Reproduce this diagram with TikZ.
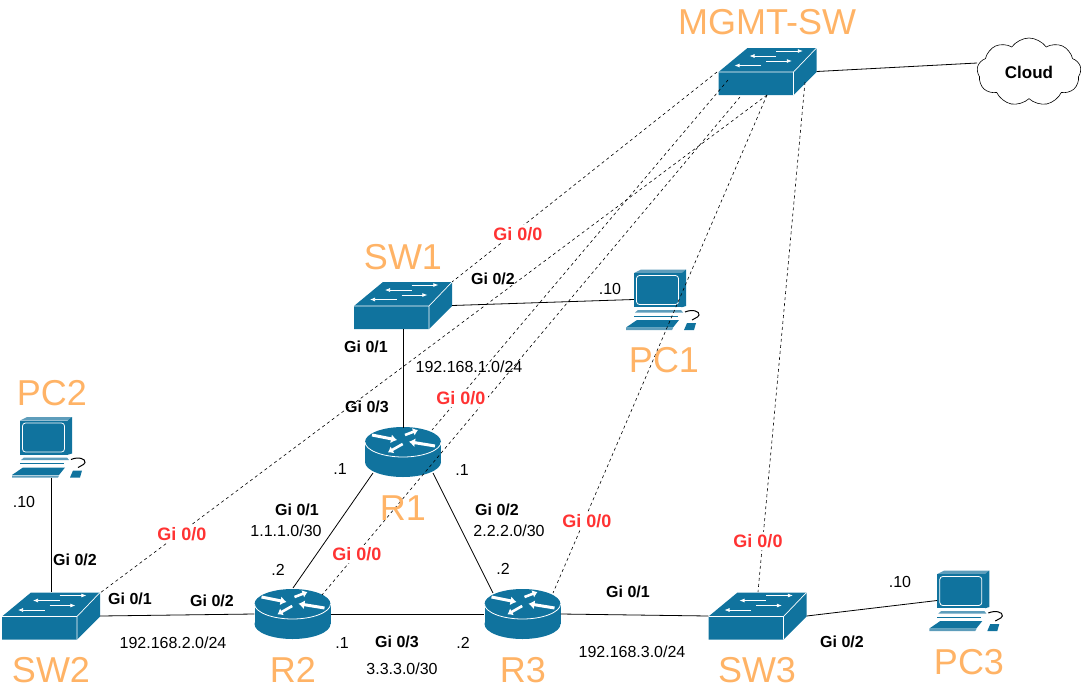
\documentclass[tikz,border=0pt]{standalone}
\usepackage{fontspec}
\setmainfont{Liberation Sans}
\usepackage{xcolor}
\usetikzlibrary{positioning}
\usetikzlibrary{shapes.symbols,arrows.meta}
\definecolor{iconblue}{HTML}{10739E}
\definecolor{iconlight}{HTML}{5E9DBB}
\definecolor{titleorange}{HTML}{FFB366}
\definecolor{portred}{HTML}{FF3333}

\tikzset{
  pics/switchicon/.style={code={
    \fill[iconblue] (-20,-23.5) -- (49,-23.5) -- (49,.5) -- (26,23.5) -- (-49,23.5) -- (-49,.5) -- cycle;
    \draw[white,line width=.7pt] (-49,.5) -- (26,.5) -- (49,-23.5) (26,.5) -- (26,23.5);
    \draw[white,line width=.7pt,-{Latex[length=5pt,width=4pt]}] (8.7,-20.5) -- (35.3,-20.5);
    \draw[white,line width=.7pt,-{Latex[length=5pt,width=4pt]}] (8.7,-15.5) -- (-18,-15.5);
    \draw[white,line width=.7pt,-{Latex[length=5pt,width=4pt]}] (-1.3,-10.5) -- (24.3,-10.5);
    \draw[white,line width=.7pt,-{Latex[length=5pt,width=4pt]}] (-6.3,-6) -- (-33,-6);
  }},
  pics/routericon/.style={code={
    \fill[iconblue] (0,10) ellipse [x radius=38pt,y radius=15pt];
    \fill[iconblue] (-38,-10) rectangle (38,10);
    \fill[iconblue] (0,-10) ellipse [x radius=38pt,y radius=15pt];
    \draw[white,line width=.8pt] (-38,-10) .. controls (-38,-2) and (-21,5) .. (0,5) .. controls (21,5) and (38,-2) .. (38,-10);
    \draw[white,line width=3pt,-{Latex[length=6pt,width=9pt]}] (-31,-17) -- (-6,-12);
    \draw[white,line width=3pt,-{Latex[length=6pt,width=9pt]}] (32,-6) -- (6,-10.3);
    \draw[white,line width=2.6pt,-{Latex[length=5pt,width=8pt]}] (2,-17) -- (15,-22);
    \draw[white,line width=2.6pt,-{Latex[length=5pt,width=8pt]}] (-.3,-8) -- (-15,.3);
  }},
  pics/pcicon/.style={code={
    \begin{scope}[shift={(-28.5,-26.5)}]
      \fill[iconlight] (0,0) -- (7,-3.5) -- (52,-3.5) -- (47.7,0) -- cycle;
      \fill[iconblue] (47.7,0) -- (52,-3.5) -- (52,33) -- (47.7,34.3) -- cycle;
      \fill[iconblue] (0,0) rectangle (47.7,34.3);
      \draw[white,line width=.8pt,rounded corners=3pt] (2.5,2.5) rectangle (44.5,31.5);
      \fill[iconlight] (4,37) -- (47,37) -- (49,39.5) -- (1,39.5) -- cycle;
      \draw[iconblue,line width=.7pt] (0,43) -- (44,43);
      \fill[iconblue] (-8,54.5) -- (3,47) -- (45,47) -- (39,54.5) -- cycle;
      \fill[iconlight] (-8,55.2) -- (39,55.2) -- (38,57) -- (-8,57) -- cycle;
      \fill[iconblue] (53,50) -- (62,50) -- (60,57) -- (50,57) -- cycle;
      \draw[black,line width=1pt] (51,39) .. controls (58,36) and (66,38) .. (65,42) .. controls (64,45) and (60,45) .. (58,47);
    \end{scope}
  }}
}

\begin{document}
\begin{tikzpicture}[
      x=1pt, y=-1pt,
      type-switch/.style={rectangle, minimum width=98pt, minimum height=47pt, inner sep=0pt},
      type-router/.style={rectangle, minimum width=76pt, minimum height=50pt, inner sep=0pt},
      type-pc/.style={rectangle, minimum width=73pt, minimum height=61pt, inner sep=0pt},
      type-cloud/.style={cloud, cloud puffs=9, cloud puff arc=110, aspect=1.6, draw=black, line width=.6pt, minimum width=104pt, minimum height=68pt, inner sep=0pt, font=\fontsize{17}{19}\selectfont\bfseries},
      type-title/.style={inner sep=0pt, text=titleorange, font=\fontsize{36}{40}\selectfont},
      type-port/.style={inner sep=0pt, font=\fontsize{16}{18}\selectfont\bfseries},
      type-mgmt/.style={inner sep=2pt, fill=white, text=portred, font=\fontsize{18}{20}\selectfont\bfseries},
      type-net/.style={inner sep=0pt, font=\fontsize{16}{18}\selectfont},
      link/.style={black, line width=.8pt},
      mgmt-link/.style={black, line width=.6pt, dash pattern=on 3pt off 3pt}
    ]
      \useasboundingbox (0,0) rectangle (1090,691);

      \node[type-switch] (MGMT) at (767.5,71.5) {};
      \node[type-switch] (SW1) at (403,305.5) {};
      \node[type-switch] (SW2) at (51,616) {};
      \node[type-switch] (SW3) at (757.5,616) {};
      \node[type-router] (R1) at (403,452) {};
      \node[type-router] (R2) at (292.5,614) {};
      \node[type-router] (R3) at (522.5,614) {};
      \node[type-pc] (PC1) at (662.5,299.5) {};
      \node[type-pc] (PC2) at (48.5,447) {};
      \node[type-pc] (PC3) at (965.8,600.5) {};
      \node[type-cloud] (cloud) at (1029,72) {Cloud};

      \foreach \dev in {MGMT,SW1,SW2,SW3} {\pic at (\dev) {switchicon};}
      \foreach \dev in {R1,R2,R3} {\pic at (\dev) {routericon};}
      \foreach \dev in {PC1,PC2,PC3} {\pic at (\dev) {pcicon};}

      \draw[link] (MGMT.east) -- ([yshift=9pt]cloud.west);
      \draw[link] (SW1.east) -- ([xshift=8pt]PC1.west);
      \draw[link] (SW1.south) -- ([yshift=-1pt]R1.north);
      \draw[link] (PC2.south -| SW2.north) -- (SW2.north);
      \draw[link] (SW2.east) -- (R2.west);
      \draw[link] (R2.east) -- (R3.west);
      \draw[link] (R3.east) -- (SW3.west);
      \draw[link] (SW3.east) -- ([xshift=8pt]PC3.west);
      \draw[link] ([shift={(-30,21)}]R1.center) -- ([shift={(.5,-26)}]R2.center);
      \draw[link] ([shift={(30,21)}]R1.center) -- ([shift={(-29.5,-21)}]R3.center);

      \draw[mgmt-link] ([shift={(-50.5,.5)}]MGMT.center) -- (SW1.north east);
      \draw[mgmt-link] ([shift={(-.5,23.5)}]MGMT.center) -- ([shift={(49,-23)}]SW2.center);
      \draw[mgmt-link] ([shift={(-39.5,8.5)}]MGMT.center) -- ([shift={(29,-22)}]R1.center);
      \draw[mgmt-link] ([shift={(-27.5,25.5)}]MGMT.center) -- ([shift={(29.5,-19)}]R2.center);
      \draw[mgmt-link] ([shift={(-.5,23.5)}]MGMT.center) -- ([shift={(30.5,-21)}]R3.center);
      \draw[mgmt-link] ([shift={(37.5,10.5)}]MGMT.center) -- ([shift={(.5,-24)}]SW3.center);

      \node[type-title] (t-mgmt) at (767,22) {MGMT-SW};
      \node[type-title] (t-sw1) at (403,257) {SW1};
      \node[type-title] (t-pc1) at (664,360) {PC1};
      \node[type-title] (t-pc2) at (52,393) {PC2};
      \node[type-title] (t-r1) at (403,508) {R1};
      \node[type-title] (t-sw2) at (51,670) {SW2};
      \node[type-title] (t-r2) at (293,670) {R2};
      \node[type-title] (t-r3) at (523,670) {R3};
      \node[type-title] (t-sw3) at (757,670) {SW3};
      \node[type-title] (t-pc3) at (969,662) {PC3};

      \node[type-mgmt] (m-sw1) at (518,234) {Gi 0/0};
      \node[type-mgmt] (m-r1) at (461,398) {Gi 0/0};
      \node[type-mgmt] (m-sw2) at (182,534) {Gi 0/0};
      \node[type-mgmt] (m-r2) at (357,554) {Gi 0/0};
      \node[type-mgmt] (m-r3) at (587,521) {Gi 0/0};
      \node[type-mgmt] (m-sw3) at (758,541) {Gi 0/0};

      \node[type-port] (p-sw1-2) at (493,279) {Gi 0/2};
      \node[type-port] (p-sw1-1) at (366,347) {Gi 0/1};
      \node[type-port] (p-r1-3) at (367,407) {Gi 0/3};
      \node[type-port] (p-r1-1) at (297,510) {Gi 0/1};
      \node[type-port] (p-r1-2) at (497,510) {Gi 0/2};
      \node[type-port] (p-sw2-2) at (75,560) {Gi 0/2};
      \node[type-port] (p-sw2-1) at (130,599) {Gi 0/1};
      \node[type-port] (p-r2-2) at (212,601) {Gi 0/2};
      \node[type-port] (p-r2-3) at (397,642) {Gi 0/3};
      \node[type-port] (p-r3-1) at (628,592) {Gi 0/1};
      \node[type-port] (p-sw3-2) at (842,642) {Gi 0/2};

      \node[type-net] (n-r1-net) at (469,367) {192.168.1.0/24};
      \node[type-net] (n-sw2-net) at (173,643) {192.168.2.0/24};
      \node[type-net] (n-sw3-net) at (632,652) {192.168.3.0/24};
      \node[type-net] (n-r1r2) at (286,531) {1.1.1.0/30};
      \node[type-net] (n-r1r3) at (509,531) {2.2.2.0/30};
      \node[type-net] (n-r2r3) at (402,669) {3.3.3.0/30};
      \node[type-net] (a-pc1) at (610,289) {.10};
      \node[type-net] (a-pc2) at (24,502) {.10};
      \node[type-net] (a-pc3) at (900,582) {.10};
      \node[type-net] (a-r1l) at (340,469) {.1};
      \node[type-net] (a-r1r) at (462,470) {.1};
      \node[type-net] (a-r2t) at (278,570) {.2};
      \node[type-net] (a-r2r) at (342,643) {.1};
      \node[type-net] (a-r3t) at (503,569) {.2};
      \node[type-net] (a-r3l) at (463,643) {.2};
    \end{tikzpicture}
\end{document}
